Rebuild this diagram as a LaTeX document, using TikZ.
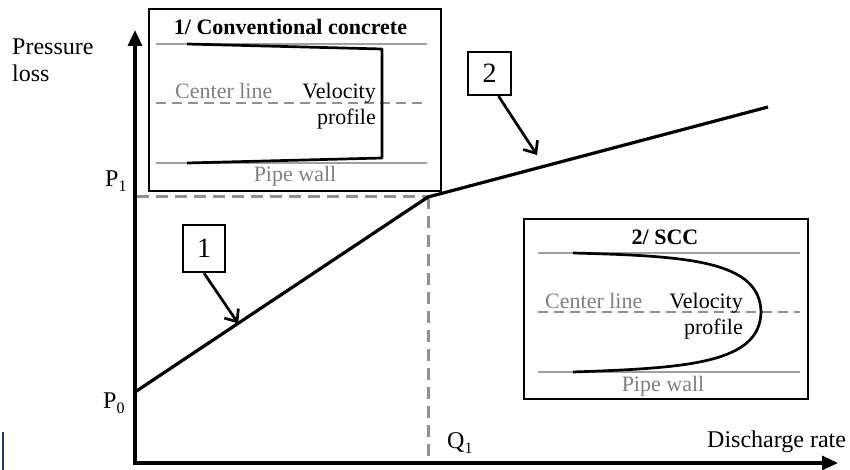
\documentclass[tikz,border=0pt]{standalone}
\usepackage{fontspec}
\setmainfont{Liberation Serif}
\usetikzlibrary{arrows.meta,calc}

\definecolor{guidegray}{RGB}{145,145,145}
\definecolor{wallgray}{RGB}{160,160,160}
\definecolor{labelgray}{RGB}{128,128,128}
\definecolor{markblue}{RGB}{31,56,100}

% lowered subscript used for P_0, P_1 and Q_1
\newcommand{\lowsub}[1]{\raisebox{-5pt}{\fontsize{16}{16}\selectfont #1}}

\begin{document}
\begin{tikzpicture}[x=1pt,y=-1pt,
  axisline/.style={line width=3.2pt,line cap=rect,-{Triangle[width=14pt,length=16pt]}},
  curveline/.style={line width=3.2pt,line join=round},
  guideline/.style={line width=3pt,draw=guidegray,dash pattern=on 12pt off 7pt},
  centerdash/.style={line width=2.2pt,draw=guidegray,dash pattern=on 10pt off 6pt},
  wallline/.style={line width=2.2pt,draw=wallgray},
  frameline/.style={line width=2.4pt},
  profileline/.style={line width=2.7pt,line join=round},
  numbox/.style={draw,line width=2.2pt,minimum width=42pt,inner sep=0pt,
    font=\fontsize{28}{30}\selectfont},
  pointer/.style={line width=2.7pt,-{Straight Barb[length=10pt,width=17pt]}},
  axlabel/.style={inner sep=0pt,font=\fontsize{24}{27}\selectfont},
  inlabel/.style={inner sep=0pt,font=\fontsize{22}{26}\selectfont},
  graylabel/.style={inlabel,text=labelgray},
  titlelabel/.style={inner sep=0pt,font=\fontsize{22}{26}\selectfont\bfseries},
]
\useasboundingbox (0,0) rectangle (850,470);

% axes
\coordinate (O) at (135,463);
\coordinate (ytip) at (135,30);
\coordinate (xtip) at (838,463);
\draw[axisline] (O) -- (ytip);
\draw[axisline] (O) -- (xtip);

% small blue mark at the lower left
\coordinate (m1) at (3,432);
\coordinate (m2) at (3,470);
\draw[line width=1.5pt,draw=markblue] (m1) -- (m2);

% pressure-loss curve and guide lines
\coordinate (P0pt) at (135,392);
\coordinate (K) at (428,197);
\coordinate (E) at (768,107);
\coordinate (P1pt) at (137,197);
\coordinate (Q1pt) at (428,462);
\draw[guideline] (P1pt) -- (K);
\draw[guideline] (K) -- (Q1pt);
\draw[curveline] (P0pt) -- (K) -- (E);

% axis labels
\node[axlabel,anchor=base west] (press) at (12,55) {Pressure};
\node[axlabel,anchor=base west] (loss) at (12,82) {loss};
\node[axlabel,anchor=base west] (disch) at (707,447) {Discharge rate};
\node[axlabel,anchor=base west] (P0) at (103,408) {P\lowsub{0}};
\node[axlabel,anchor=base west] (P1) at (105,187) {P\lowsub{1}};
\node[axlabel,anchor=base west] (Q1) at (447,448) {Q\lowsub{1}};

% numbered markers
\node[numbox,minimum height=47pt] (n1) at (204,248.5) {1};
\node[numbox,minimum width=43pt,minimum height=43pt] (n2) at (489.5,73.5) {2};
\coordinate (t1) at ($(P0pt)!0.352!(K)$);
\coordinate (t2) at (537,155);
\draw[pointer] (n1.south) -- (t1);
\draw[pointer] ([xshift=9pt]n2.south) -- (t2);

% inset 1: conventional concrete
\draw[frameline] (149,9) rectangle (441,191);
\draw[wallline] (156,44) -- (427,44);
\draw[wallline] (156,163) -- (427,163);
\draw[centerdash] (156,103) -- (427,103);
\draw[profileline] (187,44) -- (382,49) -- (382,158) -- (187,163);
\node[titlelabel,anchor=base] (t1title) at (290.5,35) {1/ Conventional concrete};
\node[graylabel,anchor=base west] (t1center) at (175,99) {Center line};
\node[inlabel,anchor=base east] (t1vel) at (376,99) {Velocity};
\node[inlabel,anchor=base east] (t1prof) at (376,125) {profile};
\node[graylabel,anchor=base] (t1wall) at (295,182) {Pipe wall};

% inset 2: SCC
\draw[frameline] (524,219) rectangle (808,399);
\draw[wallline] (538,253) -- (800,253);
\draw[wallline] (538,372) -- (800,372);
\draw[centerdash] (538,312) -- (800,312);
\draw[profileline] (573,253) .. controls (685,256) and (760,260) .. (761,312)
  .. controls (760,364) and (685,368) .. (573,372);
\node[titlelabel,anchor=base] (t2title) at (665,244) {2/ SCC};
\node[graylabel,anchor=base west] (t2center) at (545,308) {Center line};
\node[inlabel,anchor=base east] (t2vel) at (743,308) {Velocity};
\node[inlabel,anchor=base east] (t2prof) at (743,334) {profile};
\node[graylabel,anchor=base] (t2wall) at (663,391) {Pipe wall};
\end{tikzpicture}
\end{document}
